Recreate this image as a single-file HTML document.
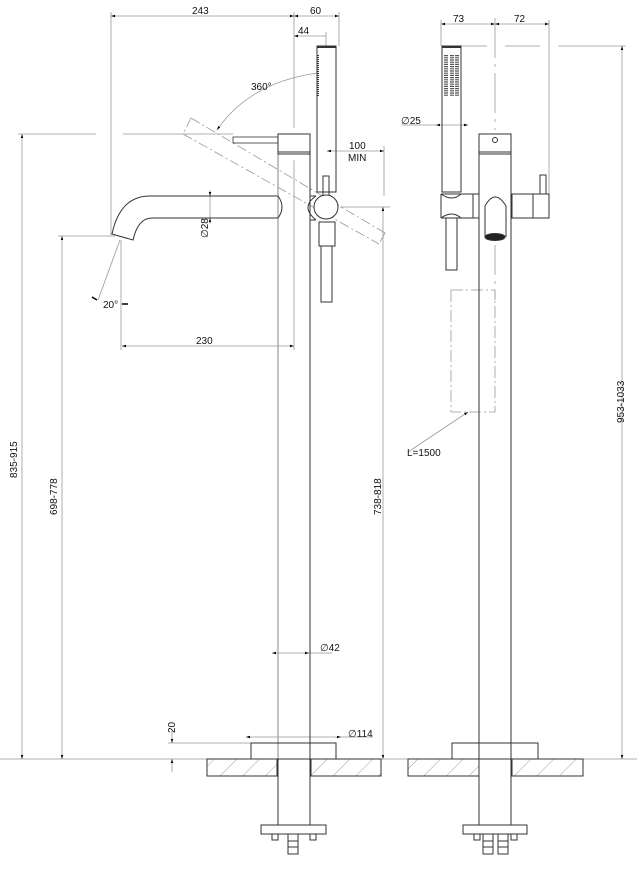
<!DOCTYPE html>
<html><head><meta charset="utf-8"><style>
html,body{margin:0;padding:0;background:#fff;}
svg{display:block;font-family:"Liberation Sans",sans-serif;}
</style></head><body>
<svg width="637" height="869" viewBox="0 0 637 869" xmlns="http://www.w3.org/2000/svg">
<defs>
<marker id="a" viewBox="0 0 10 10" refX="10" refY="5" markerWidth="7" markerHeight="5" orient="auto-start-reverse"><path d="M0,2 L10,5 L0,8z" fill="#000"/></marker>
<pattern id="h" width="16" height="16" patternUnits="userSpaceOnUse" patternTransform="rotate(45)"><line x1="0" y1="0" x2="0" y2="16" stroke="#888" stroke-width="0.8"/></pattern>
</defs>
<g fill="none" stroke="#999" stroke-width="0.8">
<line x1="111" y1="16" x2="294" y2="16" marker-start="url(#a)" marker-end="url(#a)"/>
<line x1="294" y1="16" x2="339" y2="16" marker-start="url(#a)" marker-end="url(#a)"/>
<line x1="294" y1="36" x2="326" y2="36" marker-start="url(#a)"/>
<line x1="326" y1="32" x2="326" y2="46"/>
<line x1="339" y1="12" x2="339" y2="46"/>
<line x1="111" y1="12" x2="111" y2="235"/>
<line x1="294" y1="12" x2="294" y2="128"/>
<line x1="294" y1="160" x2="294" y2="350"/>
<line x1="121" y1="240" x2="121" y2="350"/>
<line x1="122" y1="346" x2="294" y2="346" marker-start="url(#a)" marker-end="url(#a)"/>
<line x1="18" y1="134" x2="96" y2="134"/><line x1="123" y1="134" x2="233" y2="134"/>
<line x1="22" y1="134" x2="22" y2="759" marker-start="url(#a)" marker-end="url(#a)"/>
<line x1="58" y1="236" x2="115" y2="236"/>
<line x1="62" y1="236" x2="62" y2="759" marker-start="url(#a)" marker-end="url(#a)"/>
<line x1="340" y1="207" x2="390" y2="207"/>
<line x1="383" y1="207" x2="383" y2="759" marker-start="url(#a)" marker-end="url(#a)"/>
<line x1="384" y1="146" x2="384" y2="196"/>
<line x1="327" y1="151" x2="384" y2="151" marker-start="url(#a)" marker-end="url(#a)"/>
<line x1="0" y1="759" x2="637" y2="759"/>
<line x1="168" y1="743" x2="251" y2="743"/>
<line x1="172" y1="730" x2="172" y2="743" marker-end="url(#a)"/>
<line x1="172" y1="772" x2="172" y2="759" marker-end="url(#a)"/>
<line x1="246" y1="737" x2="341" y2="737" marker-start="url(#a)" marker-end="url(#a)"/>
<line x1="341" y1="737" x2="373" y2="737"/>
<line x1="272" y1="653" x2="309" y2="653" marker-start="url(#a)" marker-end="url(#a)"/>
<line x1="309" y1="653" x2="332" y2="653"/>
<line x1="210" y1="190" x2="210" y2="196" marker-end="url(#a)"/>
<line x1="210" y1="224" x2="210" y2="218" marker-end="url(#a)"/>
<line x1="210" y1="196" x2="210" y2="218"/>
<line x1="120" y1="240" x2="98" y2="300"/>
<line x1="92" y1="297" x2="97" y2="300" stroke="#000" stroke-width="1.5"/>
<line x1="122" y1="304" x2="128" y2="304" stroke="#000" stroke-width="1.5"/>
<path d="M318,73 Q250,82 217,130" marker-end="url(#a)"/>
<line x1="441" y1="24" x2="495" y2="24" marker-start="url(#a)" marker-end="url(#a)"/>
<line x1="495" y1="24" x2="549" y2="24" marker-start="url(#a)" marker-end="url(#a)"/>
<line x1="441" y1="20" x2="441" y2="46"/>
<line x1="549" y1="20" x2="549" y2="194"/>
<line x1="495" y1="18" x2="495" y2="130" stroke-dasharray="40 6 3 6"/>
<line x1="495" y1="245" x2="495" y2="300" stroke-dasharray="30 6 3 6"/>
<line x1="461" y1="46" x2="487" y2="46"/><line x1="505" y1="46" x2="540" y2="46"/><line x1="558" y1="46" x2="626" y2="46"/>
<line x1="622" y1="46" x2="622" y2="759" marker-start="url(#a)" marker-end="url(#a)"/>
<line x1="436" y1="125" x2="468" y2="125" marker-start="url(#a)" marker-end="url(#a)"/>
<line x1="402" y1="125" x2="436" y2="125"/>
<line x1="408" y1="452" x2="468" y2="412" marker-end="url(#a)"/>
<rect x="451" y="290" width="44" height="122" stroke-dasharray="12 3 2 3"/>
<g stroke-dasharray="10 3 2 3">
<line x1="191" y1="118" x2="385" y2="233"/>
<line x1="183" y1="134" x2="379" y2="244"/>
<line x1="191" y1="118" x2="183" y2="134"/>
<line x1="385" y1="233" x2="379" y2="244"/>
</g>
</g>
<g fill="none" stroke="#333" stroke-width="1">
<line x1="278" y1="154" x2="278" y2="759" stroke="#999" stroke-width="1.2"/>
<line x1="310" y1="154" x2="310" y2="759"/>
<rect x="278" y="134" width="32" height="20"/><line x1="278" y1="152" x2="310" y2="152"/>
<rect x="233" y="137" width="45" height="6" stroke-width="0.8"/>
<path d="M278,196 L150,196 Q120,196 112,234 L133,240 Q138,218 152,218 L278,218"/>
<path d="M278,196 Q286,207 278,218" />
<rect x="317" y="46" width="19" height="146"/>
<line x1="317" y1="47" x2="336" y2="47" stroke-width="2"/>
<line x1="318" y1="55" x2="318" y2="96" stroke-dasharray="1 1" stroke-width="2"/>
<path d="M316,196 Q300,207 316,220" />
<line x1="310" y1="196" x2="316" y2="196"/><line x1="310" y1="220" x2="316" y2="220"/>
<rect x="323" y="176" width="6" height="20"/>
<circle cx="326" cy="207" r="12" fill="#fff"/>
<rect x="319" y="222" width="16" height="24"/>
<rect x="321" y="246" width="11" height="56"/>
<rect x="251" y="743" width="85" height="16"/>
<rect x="207" y="759" width="70" height="17" fill="url(#h)"/>
<rect x="311" y="759" width="70" height="17" fill="url(#h)"/>
<line x1="278" y1="759" x2="278" y2="825"/><line x1="310" y1="759" x2="310" y2="825"/>
<rect x="261" y="825" width="65" height="9"/>
<rect x="272" y="834" width="6" height="6"/><rect x="310" y="834" width="6" height="6"/>
<rect x="288" y="834" width="10" height="20"/>
<line x1="288" y1="841" x2="298" y2="841"/><line x1="288" y1="847" x2="298" y2="847"/>
</g>
<g fill="none" stroke="#333" stroke-width="1">
<line x1="479" y1="154" x2="479" y2="759"/>
<line x1="511" y1="154" x2="511" y2="759"/>
<rect x="479" y="134" width="32" height="20"/><line x1="479" y1="152" x2="511" y2="152"/>
<circle cx="495" cy="140" r="2.5"/>
<rect x="442" y="46" width="19" height="146"/>
<line x1="442" y1="47" x2="461" y2="47" stroke-width="2"/>
<g stroke-dasharray="1.2 1" stroke-width="4" stroke="#555"><line x1="446" y1="55" x2="446" y2="96"/><line x1="452" y1="55" x2="452" y2="96"/><line x1="457" y1="55" x2="457" y2="96"/></g>
<path d="M441,194 L479,194 M441,218 L479,218 M441,194 L441,218 M473,194 L473,218 M441,194 Q452,202 461,194 M441,218 Q452,210 461,218"/>
<rect x="446" y="218" width="11" height="52"/>
<rect x="512" y="194" width="37" height="24"/>
<line x1="533" y1="194" x2="533" y2="218"/>
<rect x="540" y="175" width="6" height="19"/>
<path d="M485,237 L485,206 Q495,188 506,206 L506,237"/>
<ellipse cx="495" cy="237" rx="10" ry="3.5" fill="#222"/>
<rect x="452" y="743" width="86" height="16"/>
<rect x="408" y="759" width="71" height="17" fill="url(#h)"/>
<rect x="512" y="759" width="71" height="17" fill="url(#h)"/>
<line x1="479" y1="759" x2="479" y2="825"/><line x1="511" y1="759" x2="511" y2="825"/>
<rect x="463" y="825" width="64" height="9"/>
<rect x="474" y="834" width="6" height="6"/><rect x="511" y="834" width="6" height="6"/>
<rect x="483" y="834" width="10" height="20"/><rect x="498" y="834" width="10" height="20"/>
<line x1="483" y1="841" x2="493" y2="841"/><line x1="483" y1="847" x2="493" y2="847"/>
<line x1="498" y1="841" x2="508" y2="841"/><line x1="498" y1="847" x2="508" y2="847"/>
</g>
<g font-size="10" fill="#111">
<text x="192" y="14">243</text>
<text x="310" y="14">60</text>
<text x="298" y="34">44</text>
<text x="251" y="90">360°</text>
<text x="349" y="149">100</text>
<text x="348" y="161">MIN</text>
<text x="103" y="308">20°</text>
<text x="196" y="344">230</text>
<text x="320" y="651">∅42</text>
<text x="348" y="737">∅114</text>
<text x="453" y="22">73</text>
<text x="514" y="22">72</text>
<text x="401" y="124">∅25</text>
<text x="407" y="456">L=1500</text>
<text transform="translate(208,238) rotate(-90)">∅28</text>
<text transform="translate(17,478) rotate(-90)">835-915</text>
<text transform="translate(57,515) rotate(-90)">698-778</text>
<text transform="translate(381,515) rotate(-90)">738-818</text>
<text transform="translate(624,423) rotate(-90)">953-1033</text>
<text transform="translate(175,733) rotate(-90)">20</text>
</g>
</svg>
</body></html>
